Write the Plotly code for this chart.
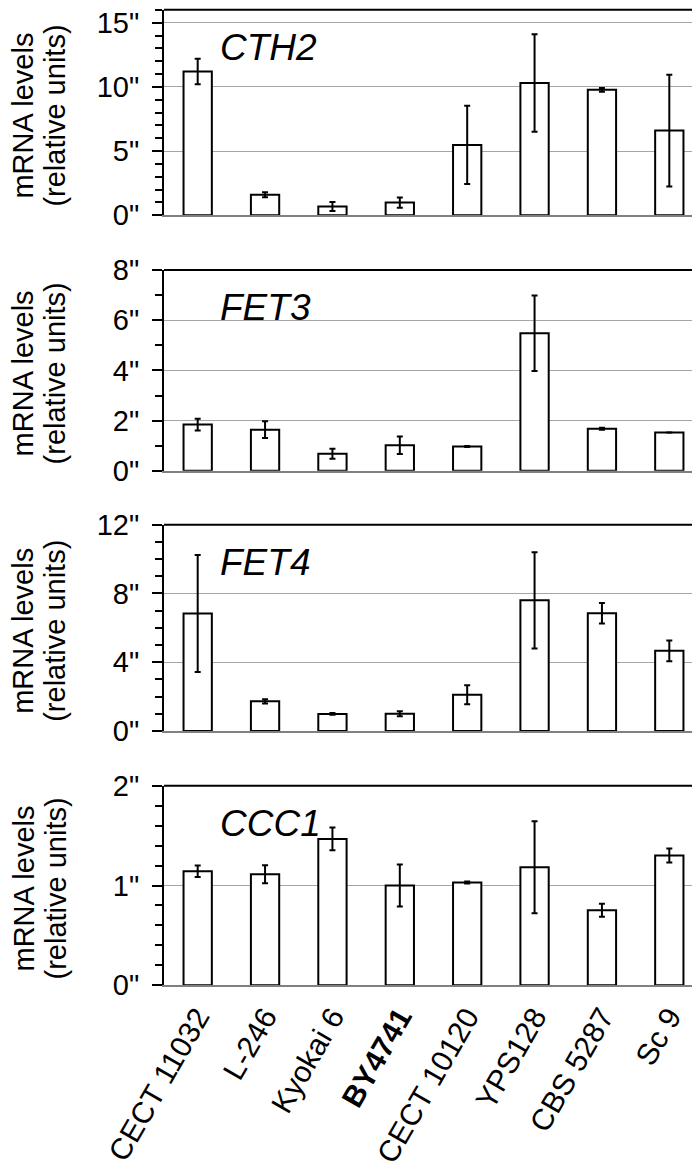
import plotly.graph_objects as go

categories = ["CECT 11032", "L-246", "Kyokai 6", "BY4741", "CECT 10120", "YPS128", "CBS 5287", "Sc 9"]
category_labels = ["CECT 11032", "L-246", "Kyokai 6", "<b>BY4741</b>", "CECT 10120", "YPS128", "CBS 5287", "Sc 9"]

genes = ["CTH2", "FET3", "FET4", "CCC1"]

cth2 = [11.2, 1.6, 0.68, 0.99, 5.48, 10.3, 9.77, 6.6]
cth2_err = [1.0, 0.2, 0.35, 0.4, 3.05, 3.8, 0.15, 4.35]
fet3 = [1.84, 1.64, 0.68, 1.02, 0.97, 5.48, 1.68, 1.53]
fet3_err = [0.23, 0.33, 0.2, 0.35, 0.02, 1.5, 0.04, 0.0]
fet4 = [6.83, 1.72, 0.99, 1.0, 2.1, 7.6, 6.85, 4.66]
fet4_err = [3.4, 0.12, 0.05, 0.15, 0.55, 2.8, 0.6, 0.6]
ccc1 = [1.143, 1.113, 1.467, 1.0, 1.03, 1.183, 0.753, 1.3]
ccc1_err = [0.057, 0.09, 0.115, 0.21, 0.01, 0.46, 0.065, 0.07]

values = [cth2, fet3, fet4, ccc1]
errors = [cth2_err, fet3_err, fet4_err, ccc1_err]

y_max = [16, 8, 12, 2]
minor_step = [1, 1, 1, 0.2]
tick_values = [[0, 5, 10, 15], [0, 2, 4, 6, 8], [0, 4, 8, 12], [0, 1, 2]]
tick_texts = [['0"', '5"', '10"', '15"'], ['0"', '2"', '4"', '6"', '8"'],
              ['0"', '4"', '8"', '12"'], ['0"', '1"', '2"']]

W, H = 700, 1176
ML, MR = 156, 5
PW = W - ML - MR
# panel pixel extents (top, bottom)
panels_px = [(1.86, 207.3), (262.0, 462.8), (516.7, 722.9), (777.7, 977.3)]

FONT = "Liberation Sans, Arial, sans-serif"

fig = go.Figure()
for i in range(4):
    ax = "" if i == 0 else str(i + 1)
    fig.add_trace(go.Bar(
        x=categories, y=values[i],
        xaxis="x" + ax, yaxis="y" + ax,
        width=0.42,
        marker=dict(color="white", line=dict(color="black", width=2)),
        error_y=dict(type="data", array=errors[i], visible=True,
                     color="black", thickness=2, width=3),
        showlegend=False,
    ))

layout = dict(
    width=W, height=H,
    margin=dict(l=ML, r=MR, t=0, b=0),
    paper_bgcolor="white", plot_bgcolor="white",
    font=dict(family=FONT, color="black"),
)
annotations = []
shapes = []
for i in range(4):
    top, bot = panels_px[i]
    dom = [1 - bot / H, 1 - top / H]
    xk = "xaxis" if i == 0 else "xaxis%d" % (i + 1)
    yk = "yaxis" if i == 0 else "yaxis%d" % (i + 1)
    xa = "x" if i == 0 else "x%d" % (i + 1)
    ya = "y" if i == 0 else "y%d" % (i + 1)
    layout[xk] = dict(
        domain=[0, 1], anchor=ya,
        type="category", categoryorder="array", categoryarray=categories,
        range=[-0.5, 7.5],
        showline=True, linecolor="#808080", linewidth=2,
        showgrid=False, zeroline=False, ticks="",
        showticklabels=(i == 3),
        tickmode="array", tickvals=categories, ticktext=category_labels,
        tickangle=-60, tickfont=dict(size=30, family=FONT),
        ticklabelstandoff=0,
        automargin=False,
    )
    layout[yk] = dict(
        domain=dom, anchor=xa,
        range=[0, y_max[i]],
        showline=True, linecolor="black", linewidth=2, mirror=True,
        showgrid=True, gridcolor="#a6a6a6", gridwidth=1,
        zeroline=False,
        tickmode="array", tickvals=tick_values[i], ticktext=tick_texts[i],
        ticks="outside", ticklen=10, tickwidth=2, tickcolor="black",
        tickfont=dict(size=29, family=FONT),
        ticklabelstandoff=7,
        ticklabeloverflow="allow",
        automargin=False,
        minor=dict(dtick=minor_step[i], tick0=0, ticks="outside", ticklen=7,
                   tickwidth=2, tickcolor="black", showgrid=False),
    )
    shapes.append(dict(type="line", xref=xa + " domain", yref=ya + " domain",
                       x0=0, x1=1, y0=1, y1=1,
                       line=dict(color="black", width=2)))
    # gene name
    annotations.append(dict(
        text="<i>%s</i>" % genes[i], xref="paper", yref="paper",
        x=(210 - ML) / PW, y=1 - (top + 38) / H,
        xanchor="left", yanchor="middle", showarrow=False,
        font=dict(size=37, family=FONT),
    ))
    cy = 1 - ((top + bot) / 2 + 3) / H
    annotations.append(dict(
        text="mRNA levels", xref="paper", yref="paper",
        x=(15 - ML) / PW, y=cy, textangle=-90,
        xanchor="center", yanchor="middle", showarrow=False,
        font=dict(size=29, family=FONT),
    ))
    annotations.append(dict(
        text="(relative units)", xref="paper", yref="paper",
        x=(47 - ML) / PW, y=cy, textangle=-90,
        xanchor="center", yanchor="middle", showarrow=False,
        font=dict(size=29, family=FONT),
    ))

layout["annotations"] = annotations
layout["shapes"] = shapes
fig.update_layout(**layout)
fig.write_html("out.html")
